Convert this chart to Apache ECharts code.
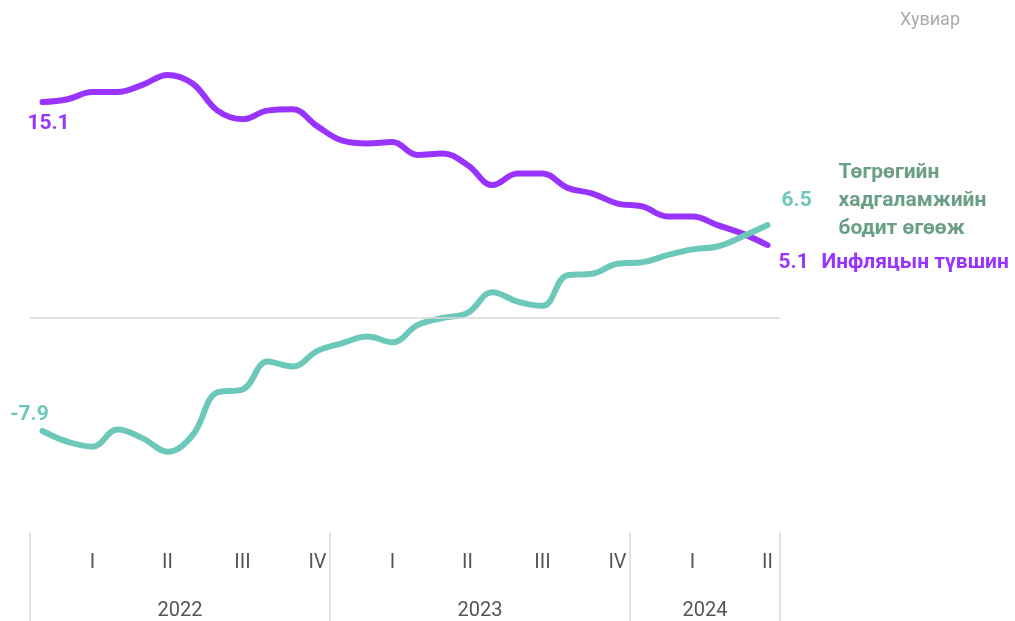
<!DOCTYPE html>
<html>
<head>
<meta charset="utf-8">
<script src="https://cdn.jsdelivr.net/npm/echarts@6/dist/echarts.min.js"></script>
<style>
    html, body { margin: 0; padding: 0; background: #fff; }
    #chart { width: 1015px; height: 621px; }
</style>
</head>
<body>
<div id="chart"></div>
<script>
// сар бүрийн ангилал
const months = [
    '2022-01', '2022-02', '2022-03', '2022-04', '2022-05', '2022-06',
    '2022-07', '2022-08', '2022-09', '2022-10', '2022-11', '2022-12',
    '2023-01', '2023-02', '2023-03', '2023-04', '2023-05', '2023-06',
    '2023-07', '2023-08', '2023-09', '2023-10', '2023-11', '2023-12',
    '2024-01', '2024-02', '2024-03', '2024-04', '2024-05', '2024-06'
]
const quarterNames = ['I', 'II', 'III', 'IV']
// инфляцын түвшин, хувиар
const inflation = [
    15.1, 15.3, 15.8, 15.8, 16.3, 17.0, 16.4, 14.5, 13.9, 14.5, 14.6, 13.4,
    12.4, 12.2, 12.3, 11.4, 11.5, 10.7, 9.3, 10.1, 10.1, 9.1, 8.7, 8.0,
    7.8, 7.1, 7.1, 6.5, 5.9, 5.1
]
// төгрөгийн хадгаламжийн бодит өгөөж, хувиар
const realReturn = [
    -7.9, -8.65, -9.0, -7.8, -8.4, -9.35, -8.2, -5.2, -5.0, -3.05, -3.4, -2.3,
    -1.75, -1.3, -1.7, -0.5, 0.0, 0.35, 1.8, 1.15, 0.85, 3.0, 3.1, 3.8,
    3.9, 4.4, 4.8, 5.0, 5.7, 6.5
]
const inflationName = 'Инфляцын түвшин'
const returnName = ['Төгрөгийн', 'хадгаламжийн', 'бодит өгөөж']
const unitText = 'Хувиар'

const purple = '#9933ff'
const teal = '#6cc8b9'
const green = '#6b9e86'
const font = 'Roboto, "Noto Sans", sans-serif'

// жилийн тэнхлэг: сар хоорондын хил дээр
const years = []
months.forEach((m, i) => {
    const y = m.slice(0, 4)
    const last = years[years.length - 1]
    if (!last || last.name !== y) years.push({ name: y, start: i, end: i + 1 })
    else last.end = i + 1
})
const yearSlots = new Array(months.length + 1).fill('')
const yearTicks = new Set([months.length])
years.forEach(y => {
    yearSlots[(y.start + y.end) / 2] = y.name
    yearTicks.add(y.start)
})

const myChart = echarts.init(document.getElementById('chart'))
myChart.setOption({
    animation: false,
    title: {
        text: unitText,
        right: 50,
        top: 6,
        textStyle: { color: '#aaaaaa', fontSize: 18, fontWeight: 'normal', fontFamily: font }
    },
    grid: [
        { left: 30, right: 235, top: 32, bottom: 88.5 },
        { left: 30, right: 235, top: 531.5, bottom: 88.5 }
    ],
    xAxis: [
        {
            type: 'category',
            gridIndex: 0,
            data: months,
            boundaryGap: true,
            axisLine: { show: false },
            axisTick: { show: false },
            axisLabel: {
                interval: 0,
                margin: 20,
                color: '#555',
                fontSize: 20,
                fontFamily: font,
                formatter: v => {
                    const m = parseInt(v.slice(5), 10)
                    return m % 3 === 0 ? quarterNames[m / 3 - 1] : ''
                }
            }
        },
        {
            type: 'category',
            gridIndex: 1,
            data: yearSlots.map((s, i) => 's' + i),
            boundaryGap: false,
            axisLine: { show: false },
            axisTick: {
                show: true,
                length: 90,
                interval: i => yearTicks.has(i),
                lineStyle: { color: '#d9d9d9', width: 1.5 }
            },
            axisLabel: {
                interval: 0,
                margin: 68,
                color: '#555',
                fontSize: 20,
                fontFamily: font,
                formatter: (v, i) => yearSlots[i]
            }
        }
    ],
    yAxis: [
        { type: 'value', gridIndex: 0, min: -15, max: 20, show: false },
        { type: 'value', gridIndex: 1, min: 0, max: 1, show: false }
    ],
    series: [
        {
            name: inflationName,
            type: 'line',
            data: inflation,
            smooth: 0.4,
            showSymbol: true,
            symbolSize: 0,
            silent: true,
            lineStyle: { color: purple, width: 6, cap: 'round' },
            itemStyle: { color: purple },
            label: {
                show: true,
                position: 'bottom',
                distance: 11,
                offset: [6, 0],
                color: purple,
                fontSize: 21,
                fontWeight: 'bold',
                fontFamily: font,
                formatter: p => p.dataIndex === 0 ? p.value.toFixed(1) : ''
            },
            endLabel: {
                show: true,
                distance: 11,
                offset: [0, 18],
                fontFamily: font,
                formatter: p => '{v|' + p.value.toFixed(1) + '}{n|' + inflationName + '}',
                rich: {
                    v: { width: 43, color: purple, fontSize: 21, fontWeight: 'bold', fontFamily: font },
                    n: { color: purple, fontSize: 21, fontWeight: 'bold', fontFamily: font }
                }
            }
        },
        {
            name: returnName.join(' '),
            type: 'line',
            data: realReturn,
            smooth: 0.4,
            showSymbol: true,
            symbolSize: 0,
            silent: true,
            lineStyle: { color: teal, width: 6, cap: 'round' },
            itemStyle: { color: teal },
            label: {
                show: true,
                position: 'top',
                distance: 6,
                offset: [-13, 0],
                color: teal,
                fontSize: 21,
                fontWeight: 'bold',
                fontFamily: font,
                formatter: p => p.dataIndex === 0 ? p.value.toFixed(1) : ''
            },
            endLabel: {
                show: true,
                distance: 14,
                offset: [0, -24],
                fontFamily: font,
                formatter: p => '{e|}{n|' + returnName[0] + '}\n{v|' + p.value.toFixed(1) + '}{n|' +
                    returnName[1] + '}\n{e|}{n|' + returnName[2] + '}',
                rich: {
                    v: { width: 57, color: teal, fontSize: 21, fontWeight: 'bold', fontFamily: font, lineHeight: 28 },
                    e: { width: 57, lineHeight: 28 },
                    n: { color: green, fontSize: 21, fontWeight: 'bold', fontFamily: font, lineHeight: 28 }
                }
            },
            markLine: {
                silent: true,
                symbol: 'none',
                label: { show: false },
                lineStyle: { color: '#d9d9d9', width: 1.5, type: 'solid' },
                data: [{ yAxis: 0 }]
            }
        }
    ]
})
</script>
</body>
</html>
